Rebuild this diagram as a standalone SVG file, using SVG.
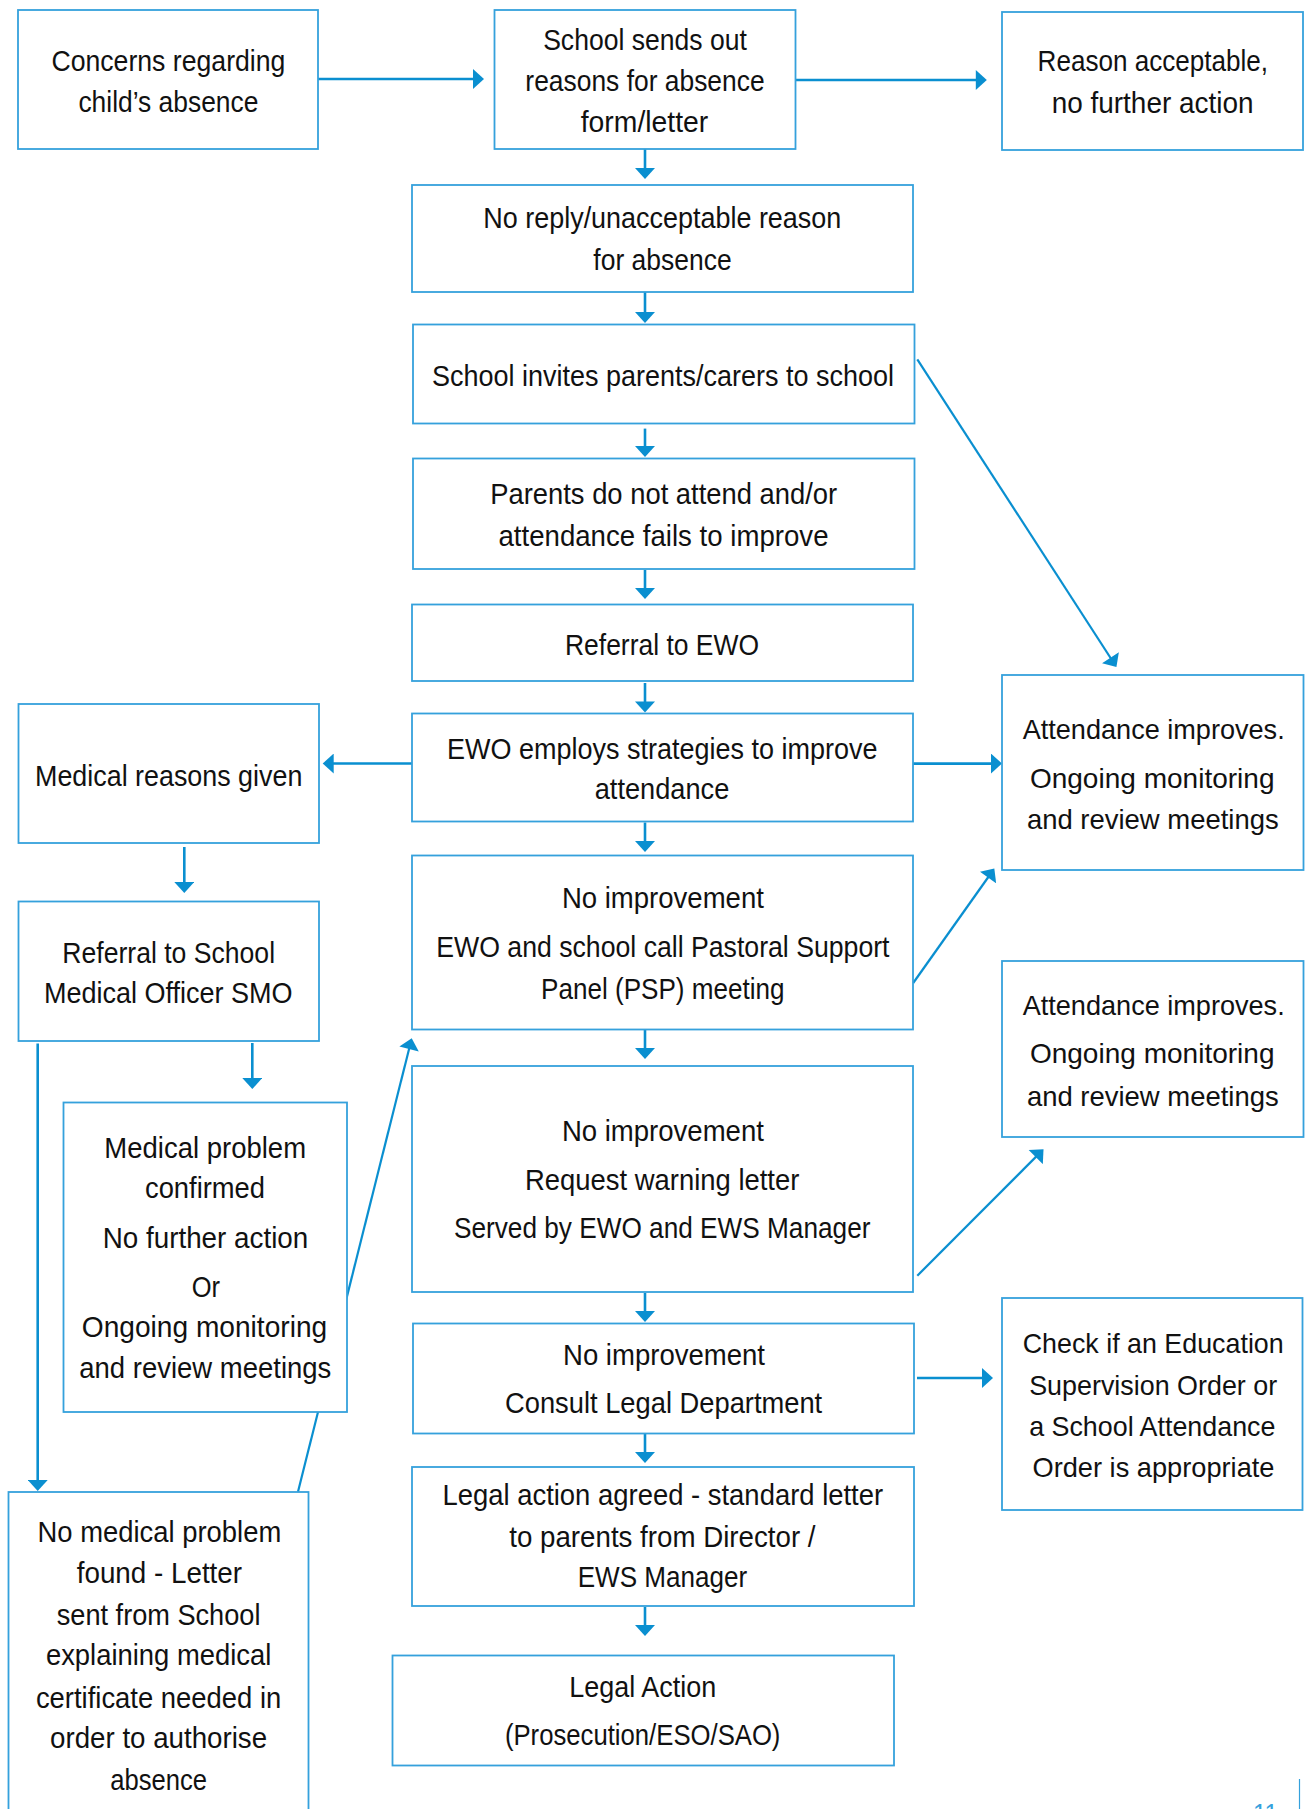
<svg xmlns="http://www.w3.org/2000/svg" width="1309" height="1809" viewBox="0 0 1309 1809">
<defs>
<style>
.box{fill:#ffffff;stroke:#35a1dc;stroke-width:1.8}
.t{font-family:"Liberation Sans Narrow","Liberation Sans",Arial,sans-serif;font-size:30px;fill:#111111;text-anchor:middle}
.r{font-size:28px}
.c{fill:none;stroke:#0a8fd0;stroke-width:2.6}
.d{fill:none;stroke:#0a8fd0;stroke-width:2.2}
</style>
<marker id="ah" markerUnits="userSpaceOnUse" markerWidth="12" markerHeight="20" viewBox="0 0 11 20" refX="8" refY="10" orient="auto">
<path d="M0,0 L11,10 L0,20 z" fill="#0a8fd0"/>
</marker>
</defs>
<rect width="1309" height="1809" fill="#ffffff"/>
<g id="connectors">
<path class="c" d="M318,79 H481" marker-end="url(#ah)"/>
<path class="c" d="M795.7,80 H983.8" marker-end="url(#ah)"/>
<path class="c" d="M645,149 V176" marker-end="url(#ah)"/>
<path class="c" d="M645,292 V320" marker-end="url(#ah)"/>
<path class="c" d="M645,428.6 V454" marker-end="url(#ah)"/>
<path class="c" d="M645,570 V596" marker-end="url(#ah)"/>
<path class="c" d="M645,683 V709.5" marker-end="url(#ah)"/>
<path class="c" d="M645,822.5 V849" marker-end="url(#ah)"/>
<path class="c" d="M645,1030 V1056" marker-end="url(#ah)"/>
<path class="c" d="M645,1293 V1319" marker-end="url(#ah)"/>
<path class="c" d="M645,1434 V1460" marker-end="url(#ah)"/>
<path class="c" d="M645,1607 V1633" marker-end="url(#ah)"/>
<path class="d" d="M917.3,359.3 L1114.8,664.5" marker-end="url(#ah)"/>
<path class="c" d="M913,763.6 H999" marker-end="url(#ah)"/>
<path class="c" d="M412,763.5 H325.7" marker-end="url(#ah)"/>
<path class="c" d="M184.3,847 V890" marker-end="url(#ah)"/>
<path class="c" d="M252.3,1043 V1086" marker-end="url(#ah)"/>
<path class="c" d="M37.7,1043.6 V1488" marker-end="url(#ah)"/>
<path class="d" d="M298,1491.7 L411,1041.2" marker-end="url(#ah)"/>
<path class="d" d="M913.2,983 L992.6,871" marker-end="url(#ah)"/>
<path class="d" d="M917.3,1275.7 L1041.4,1151.4" marker-end="url(#ah)"/>
<path class="c" d="M917,1378 H990" marker-end="url(#ah)"/>
</g>
<g id="n1">
<rect class="box" x="18" y="10" width="300" height="139"/>
<text class="t" x="168.4" y="71" textLength="234" lengthAdjust="spacingAndGlyphs">Concerns regarding</text>
<text class="t" x="168.4" y="111.7" textLength="180" lengthAdjust="spacingAndGlyphs">child’s absence</text>
</g>
<g id="n2">
<rect class="box" x="494.5" y="10" width="301" height="139"/>
<text class="t" x="645" y="50" textLength="203.7" lengthAdjust="spacingAndGlyphs">School sends out</text>
<text class="t" x="645" y="90.7" textLength="239.3" lengthAdjust="spacingAndGlyphs">reasons for absence</text>
<text class="t" x="644.5" y="131.7" textLength="127.5" lengthAdjust="spacingAndGlyphs">form/letter</text>
</g>
<g id="n3">
<rect class="box" x="1002" y="12" width="301" height="138"/>
<text class="t" x="1152.8" y="71" textLength="230.4" lengthAdjust="spacingAndGlyphs">Reason acceptable,</text>
<text class="t" x="1152.6" y="113.3" textLength="201.8" lengthAdjust="spacingAndGlyphs">no further action</text>
</g>
<g id="n4">
<rect class="box" x="412" y="185" width="501" height="107"/>
<text class="t" x="662.3" y="228.3" textLength="358" lengthAdjust="spacingAndGlyphs">No reply/unacceptable reason</text>
<text class="t" x="662.5" y="270" textLength="138.3" lengthAdjust="spacingAndGlyphs">for absence</text>
</g>
<g id="n5">
<rect class="box" x="413" y="324.5" width="501.5" height="99"/>
<text class="t" x="663" y="385.7" textLength="462" lengthAdjust="spacingAndGlyphs">School invites parents/carers to school</text>
</g>
<g id="n6">
<rect class="box" x="413" y="458.5" width="501.5" height="110.5"/>
<text class="t" x="663.7" y="504.3" textLength="347" lengthAdjust="spacingAndGlyphs">Parents do not attend and/or</text>
<text class="t" x="663.5" y="546.4" textLength="330" lengthAdjust="spacingAndGlyphs">attendance fails to improve</text>
</g>
<g id="n7">
<rect class="box" x="412" y="604.5" width="501" height="76.5"/>
<text class="t" x="662" y="654.6" textLength="194" lengthAdjust="spacingAndGlyphs">Referral to EWO</text>
</g>
<g id="n8">
<rect class="box" x="412" y="713.5" width="501" height="108"/>
<text class="t" x="662.3" y="759" textLength="430.6" lengthAdjust="spacingAndGlyphs">EWO employs strategies to improve</text>
<text class="t" x="662" y="799.3" textLength="134.5" lengthAdjust="spacingAndGlyphs">attendance</text>
</g>
<g id="n9">
<rect class="box" x="412" y="855.5" width="501" height="174"/>
<text class="t" x="662.9" y="907.9" textLength="202" lengthAdjust="spacingAndGlyphs">No improvement</text>
<text class="t" x="662.9" y="956.8" textLength="453.2" lengthAdjust="spacingAndGlyphs">EWO and school call Pastoral Support</text>
<text class="t" x="662.8" y="998.9" textLength="243.5" lengthAdjust="spacingAndGlyphs">Panel (PSP) meeting</text>
</g>
<g id="n10">
<rect class="box" x="412" y="1066" width="501" height="226"/>
<text class="t" x="662.9" y="1140.7" textLength="202" lengthAdjust="spacingAndGlyphs">No improvement</text>
<text class="t" x="662.2" y="1190" textLength="274.3" lengthAdjust="spacingAndGlyphs">Request warning letter</text>
<text class="t" x="662.2" y="1238.2" textLength="416.5" lengthAdjust="spacingAndGlyphs">Served by EWO and EWS Manager</text>
</g>
<g id="n11">
<rect class="box" x="413" y="1323.5" width="501" height="110"/>
<text class="t" x="664" y="1365" textLength="202" lengthAdjust="spacingAndGlyphs">No improvement</text>
<text class="t" x="663.6" y="1413.3" textLength="317.2" lengthAdjust="spacingAndGlyphs">Consult Legal Department</text>
</g>
<g id="n12">
<rect class="box" x="412" y="1467" width="502" height="139"/>
<text class="t" x="662.8" y="1505" textLength="440.7" lengthAdjust="spacingAndGlyphs">Legal action agreed - standard letter</text>
<text class="t" x="662.4" y="1546.7" textLength="306.3" lengthAdjust="spacingAndGlyphs">to parents from Director /</text>
<text class="t" x="662.4" y="1587.3" textLength="169.5" lengthAdjust="spacingAndGlyphs">EWS Manager</text>
</g>
<g id="n13">
<rect class="box" x="392.5" y="1655.5" width="501.5" height="110"/>
<text class="t" x="642.8" y="1696.7" textLength="146.9" lengthAdjust="spacingAndGlyphs">Legal Action</text>
<text class="t" x="642.7" y="1745" textLength="275.5" lengthAdjust="spacingAndGlyphs">(Prosecution/ESO/SAO)</text>
</g>
<g id="n14">
<rect class="box" x="18.5" y="704" width="300.5" height="139"/>
<text class="t" x="168.7" y="786" textLength="267.3" lengthAdjust="spacingAndGlyphs">Medical reasons given</text>
</g>
<g id="n15">
<rect class="box" x="18.5" y="901.5" width="300.5" height="139.5"/>
<text class="t" x="168.7" y="962.9" textLength="212.7" lengthAdjust="spacingAndGlyphs">Referral to School</text>
<text class="t" x="168.3" y="1003.2" textLength="248.7" lengthAdjust="spacingAndGlyphs">Medical Officer SMO</text>
</g>
<g id="n16">
<rect class="box" x="63.5" y="1102.5" width="283.5" height="309.5"/>
<text class="t" x="205.2" y="1157.5" textLength="201.7" lengthAdjust="spacingAndGlyphs">Medical problem</text>
<text class="t" x="205" y="1197.9" textLength="120" lengthAdjust="spacingAndGlyphs">confirmed</text>
<text class="t" x="205.5" y="1248.3" textLength="205.6" lengthAdjust="spacingAndGlyphs">No further action</text>
<text class="t" x="205.8" y="1297.3" textLength="28.3" lengthAdjust="spacingAndGlyphs">Or</text>
<text class="t" x="204.5" y="1336.7" textLength="245.4" lengthAdjust="spacingAndGlyphs">Ongoing monitoring</text>
<text class="t" x="205.3" y="1378.3" textLength="252" lengthAdjust="spacingAndGlyphs">and review meetings</text>
</g>
<g id="n17">
<rect class="box" x="8.5" y="1492" width="300" height="340"/>
<text class="t" x="159.4" y="1541.7" textLength="243.7" lengthAdjust="spacingAndGlyphs">No medical problem</text>
<text class="t" x="159.4" y="1583.3" textLength="165.3" lengthAdjust="spacingAndGlyphs">found - Letter</text>
<text class="t" x="158.6" y="1625" textLength="203.7" lengthAdjust="spacingAndGlyphs">sent from School</text>
<text class="t" x="158.6" y="1665" textLength="225.4" lengthAdjust="spacingAndGlyphs">explaining medical</text>
<text class="t" x="158.6" y="1708.3" textLength="245.4" lengthAdjust="spacingAndGlyphs">certificate needed in</text>
<text class="t" x="158.6" y="1748.3" textLength="217" lengthAdjust="spacingAndGlyphs">order to authorise</text>
<text class="t" x="158.6" y="1790" textLength="96.8" lengthAdjust="spacingAndGlyphs">absence</text>
</g>
<g id="n18">
<rect class="box" x="1002" y="675" width="301.5" height="195"/>
<text class="t r" x="1153.7" y="739.3" textLength="262" lengthAdjust="spacingAndGlyphs">Attendance improves.</text>
<text class="t r" x="1152.2" y="787.5" textLength="244.6" lengthAdjust="spacingAndGlyphs">Ongoing monitoring</text>
<text class="t r" x="1152.8" y="828.6" textLength="251.8" lengthAdjust="spacingAndGlyphs">and review meetings</text>
</g>
<g id="n19">
<rect class="box" x="1002" y="961" width="301.5" height="176"/>
<text class="t r" x="1153.7" y="1015" textLength="262" lengthAdjust="spacingAndGlyphs">Attendance improves.</text>
<text class="t r" x="1152.2" y="1063.2" textLength="244.6" lengthAdjust="spacingAndGlyphs">Ongoing monitoring</text>
<text class="t r" x="1152.8" y="1106" textLength="251.8" lengthAdjust="spacingAndGlyphs">and review meetings</text>
</g>
<g id="n20">
<rect class="box" x="1002" y="1298" width="300.5" height="212"/>
<text class="t r" x="1153.2" y="1353" textLength="261" lengthAdjust="spacingAndGlyphs">Check if an Education</text>
<text class="t r" x="1153.2" y="1395" textLength="248" lengthAdjust="spacingAndGlyphs">Supervision Order or</text>
<text class="t r" x="1152.3" y="1436" textLength="246.3" lengthAdjust="spacingAndGlyphs">a School Attendance</text>
<text class="t r" x="1153.5" y="1476.7" textLength="242" lengthAdjust="spacingAndGlyphs">Order is appropriate</text>
</g>
<g id="page">
<line x1="1299.5" y1="1779" x2="1299.5" y2="1809" stroke="#35a1dc" stroke-width="1.2"/>
<text x="1253" y="1822" font-family="Liberation Sans Narrow, Liberation Sans, Arial, sans-serif" font-size="26" fill="#35a1dc" textLength="25" lengthAdjust="spacingAndGlyphs">11</text>
</g>
</svg>
